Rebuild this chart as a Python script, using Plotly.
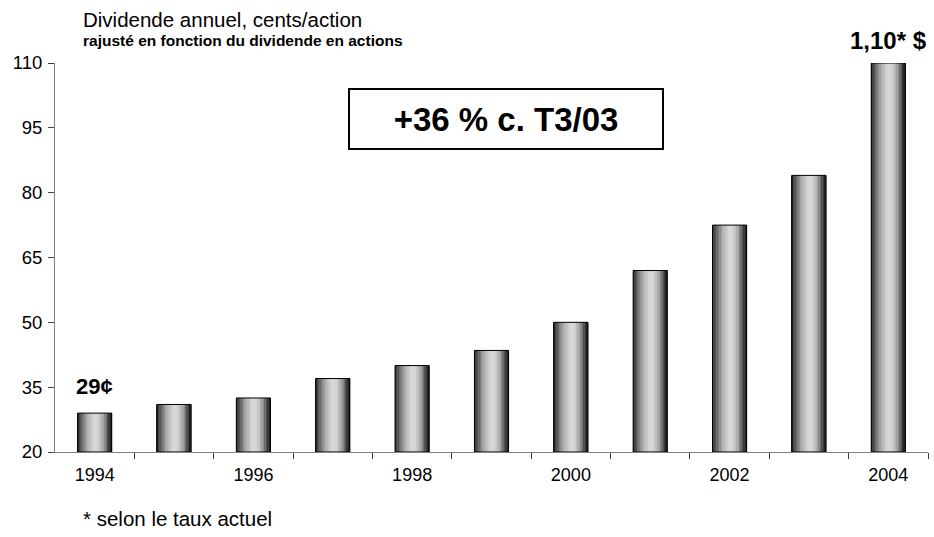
import plotly.graph_objects as go
import numpy as np

years = [1994, 1995, 1996, 1997, 1998, 1999, 2000, 2001, 2002, 2003, 2004]
dividends = [29, 31, 32.5, 37, 40, 43.5, 50, 62, 72.5, 84, 110]
year_labels = ["1994", "1996", "1998", "2000", "2002", "2004"]
year_label_vals = [1994, 1996, 1998, 2000, 2002, 2004]
y_ticks = [20, 35, 50, 65, 80, 95, 110]

FONT = "Liberation Sans, Arial, sans-serif"
BAR_W = 0.43
N_STRIPS = 24

# grey profile across a bar (cylinder look)
prof_t = [0.0, 0.12, 0.3, 0.5, 0.62, 0.78, 0.9, 1.0]
prof_v = [40, 95, 175, 218, 212, 160, 80, 25]

fig = go.Figure()
sw = BAR_W / N_STRIPS
for i in range(N_STRIPS):
    t = (i + 0.5) / N_STRIPS
    g = int(np.interp(t, prof_t, prof_v))
    fig.add_trace(go.Bar(
        x=years, y=[d - 20 for d in dividends], base=20,
        width=sw * 1.15, offset=-BAR_W / 2 + i * sw,
        marker=dict(color=f"rgb({g},{g},{g})", line=dict(width=0)),
        hoverinfo="skip", showlegend=False,
    ))
# outline
fig.add_trace(go.Bar(
    x=years, y=[d - 20 for d in dividends], base=20,
    width=BAR_W, offset=-BAR_W / 2,
    marker=dict(color="rgba(0,0,0,0)", line=dict(color="black", width=1)),
    showlegend=False,
))

fig.update_layout(
    width=934, height=537,
    margin=dict(l=55, r=6, t=63, b=85),
    paper_bgcolor="white", plot_bgcolor="white",
    barmode="overlay",
    font=dict(family=FONT, color="black"),
    xaxis=dict(
        range=[1993.5, 2004.5], tickvals=year_label_vals, ticktext=year_labels,
        ticks="", showgrid=False, zeroline=False,
        showline=True, linecolor="#808080", linewidth=1,
        tickfont=dict(size=18, family=FONT), ticklabelstandoff=6,
        minor=dict(tickvals=[y + 0.5 for y in years], ticks="outside",
                   ticklen=6, tickcolor="#404040", tickwidth=1, showgrid=False),
    ),
    yaxis=dict(
        range=[20, 110], tickvals=y_ticks, ticks="outside", ticklen=6,
        tickcolor="#404040", showgrid=False, zeroline=False,
        showline=True, linecolor="#808080", linewidth=1,
        tickfont=dict(size=18.5, family=FONT), ticklabelstandoff=2,
    ),
    annotations=[
        dict(text="Dividende annuel, cents/action", xref="paper", yref="paper",
             x=0.0298, y=1.113, xanchor="left", yanchor="middle", showarrow=False,
             font=dict(size=20.5, family=FONT)),
        dict(text="<b>rajusté en fonction du dividende en actions</b>", xref="paper", yref="paper",
             x=0.0298, y=1.0566, xanchor="left", yanchor="middle", showarrow=False,
             font=dict(size=15.5, family=FONT)),
        dict(text="* selon le taux actuel", xref="paper", yref="paper",
             x=0.0298, y=-0.1697, xanchor="left", yanchor="middle", showarrow=False,
             font=dict(size=20.5, family=FONT)),
        dict(text="<b>+36 % c. T3/03</b>", xref="paper", yref="paper",
             x=0.5166, y=0.856, xanchor="center", yanchor="middle", showarrow=False,
             font=dict(size=33, family=FONT), bordercolor="black", borderwidth=2,
             width=310, height=56, bgcolor="white"),
        dict(text="<b>29¢</b>", x=years[0], y=dividends[0], xanchor="center", yanchor="bottom",
             yshift=12, showarrow=False, font=dict(size=22, family=FONT)),
        dict(text="<b>1,10* $</b>", x=years[-1], y=dividends[-1], xanchor="center", yanchor="bottom",
             yshift=7, showarrow=False, font=dict(size=24, family=FONT)),
    ],
)

fig.write_html("out.html", config={"displayModeBar": False},
               post_script="document.body.style.margin='0';")
